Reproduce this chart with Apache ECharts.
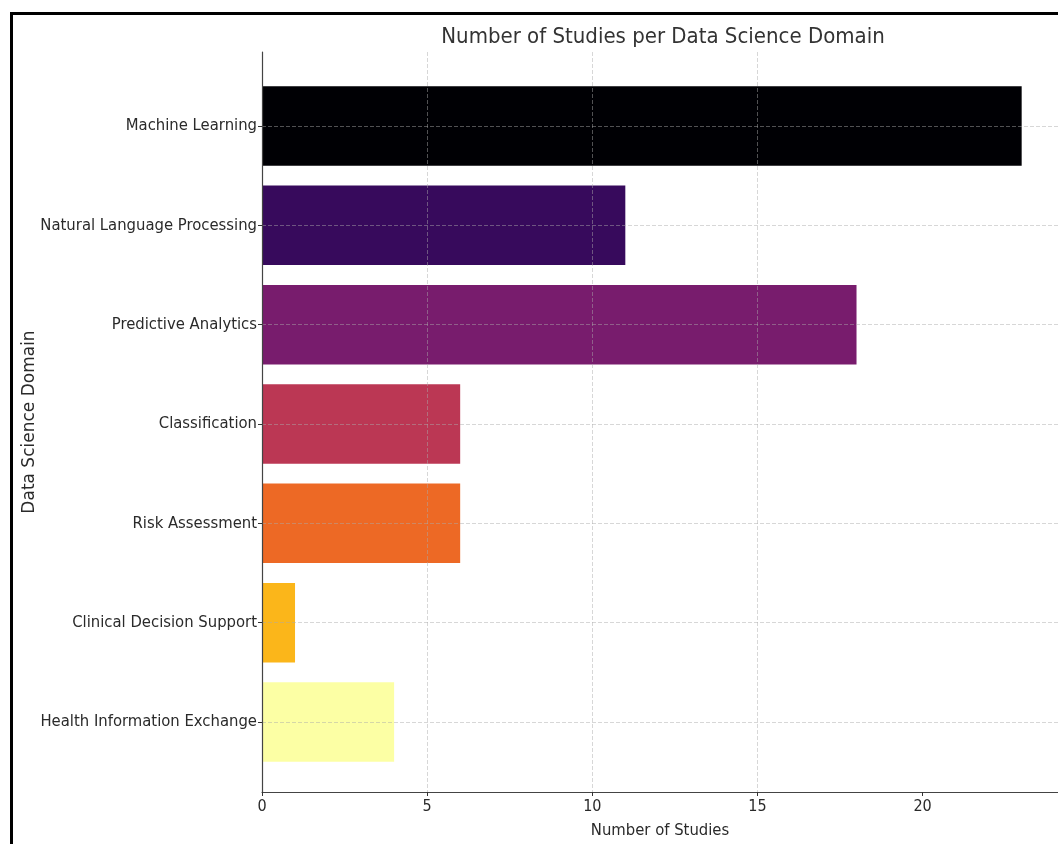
<!DOCTYPE html>
<html>
<head>
<meta charset="utf-8">
<script src="https://cdn.jsdelivr.net/npm/echarts@6/dist/echarts.min.js"></script>
<style>
html,body{margin:0;padding:0;background:#fff;}
#frame{position:absolute;left:10px;top:12px;width:1060px;height:850px;border:3px solid #000;box-sizing:border-box;}
#chart{position:absolute;left:0;top:0;width:1058px;height:844px;}
</style>
</head>
<body>
<div id="frame"></div>
<div id="chart"></div>
<script>
const categories = ["Machine Learning","Natural Language Processing","Predictive Analytics","Classification","Risk Assessment","Clinical Decision Support","Health Information Exchange"];
const studies = [23, 11, 18, 6, 6, 1, 4];
const barColors = ["#000004","#370a5c","#781c6d","#bb3754","#ed6925","#fbb61a","#fcffa4"];
const xTicks = [0, 5, 10, 15, 20];

const chart = echarts.init(document.getElementById('chart'), null, {renderer:'canvas'});
const cond = '"DejaVu Sans Condensed", "DejaVu Sans", sans-serif';
const gridCol = 'rgba(170,170,170,0.6)';
const xMax = 24.1;
chart.setOption({
  animation:false,
  backgroundColor:'transparent',
  title:{text:'Number of Studies per Data Science Domain', left:658, top:21, textAlign:'center',
    textStyle:{fontFamily:cond, fontSize:22, fontWeight:'normal', color:'#333'}},
  grid:[
    {left:262, right:0, top:52, bottom:49, containLabel:false},
    {left:262, right:0, top:126, bottom:122, containLabel:false}
  ],
  xAxis:[
    {gridIndex:0, type:'value', min:0, max:xMax, interval:5, z:3,
     name:'Number of Studies', nameLocation:'middle', nameGap:30,
     nameTextStyle:{fontFamily:cond, fontSize:16.5, color:'#2a2a2a'},
     axisLine:{show:true, lineStyle:{color:'#444', width:1.2}},
     axisTick:{show:true, length:4, lineStyle:{color:'#333'}, customValues:xTicks},
     axisLabel:{fontFamily:cond, fontSize:16, color:'#2a2a2a', margin:7, customValues:xTicks,
       formatter:v => xTicks.includes(v) ? String(v) : ''},
     splitLine:{show:true, showMaxLine:false, lineStyle:{color:gridCol, type:[4,2], width:0.8}}},
    {gridIndex:1, type:'value', min:0, max:xMax, show:false, splitLine:{show:false}}
  ],
  yAxis:[
    {gridIndex:0, type:'value', min:0, max:1, z:3,
     name:'Data Science Domain', nameLocation:'middle', nameGap:224, nameRotate:90,
     nameTextStyle:{fontFamily:'"DejaVu Sans", sans-serif', fontSize:17, color:'#2a2a2a'},
     axisLine:{show:true, lineStyle:{color:'#444', width:1.2}},
     axisTick:{show:false}, axisLabel:{show:false}, splitLine:{show:false}},
    {gridIndex:1, type:'category', data:categories, boundaryGap:false, inverse:true, z:3,
     axisLine:{show:false},
     axisTick:{show:true, length:4, lineStyle:{color:'#333'}},
     axisLabel:{fontFamily:cond, fontSize:16.5, color:'#2a2a2a', margin:5},
     splitLine:{show:true, lineStyle:{color:gridCol, type:[4,2], width:0.8}}}
  ],
  series:[{
    type:'bar', xAxisIndex:1, yAxisIndex:1, clip:false, barWidth:79.5, z:2,
    data: studies.map((v,i)=>({value:v, itemStyle:{color:barColors[i]}}))
  }]
});
</script>
</body>
</html>
